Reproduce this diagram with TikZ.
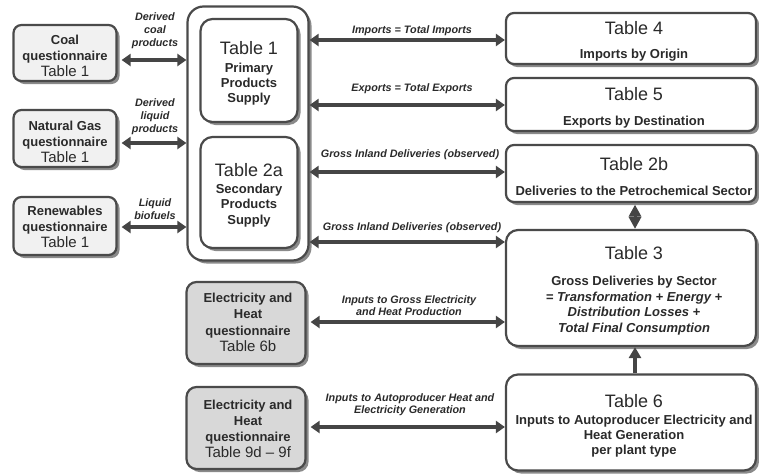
\documentclass[tikz,border=0pt]{standalone}
\usepackage{fontspec}
\setmainfont{Liberation Sans}
\usetikzlibrary{arrows.meta,shadows}
\definecolor{bordc}{HTML}{4A4A4A}
\definecolor{arrc}{HTML}{454545}
\definecolor{txtc}{HTML}{2A2A2A}
\definecolor{lfill}{HTML}{F1F1F1}
\definecolor{dfill}{HTML}{D8D8D8}
\definecolor{shadc}{HTML}{8A8A8A}
\newcommand\mytitle{\fontsize{18}{15.5}\selectfont\mdseries\upshape}
\newcommand\mytitlesm{\fontsize{15}{15.5}\selectfont\mdseries\upshape}
\newcommand\mybody{\fontsize{13}{15.5}\selectfont\bfseries}
\newcommand\mylabel{\fontsize{10.8}{13}\selectfont\bfseries\itshape}
\begin{document}
\begin{tikzpicture}[x=1pt,y=-1pt,
  box/.style={draw=bordc, line width=2.2pt, rounded corners=8pt, fill=white, inner sep=0pt,
    drop shadow={shadow xshift=3pt,shadow yshift=-3pt,fill=shadc,opacity=1}},
  lbox/.style={box, fill=lfill},
  dbox/.style={box, fill=dfill},
  txt/.style={align=center, text=txtc, inner sep=0pt, font=\mybody},
  lab/.style={align=center, text=txtc, inner sep=0pt, font=\mylabel},
  arr/.style={draw=arrc, line width=3.5pt, {Triangle[length=9pt,width=12pt]}-{Triangle[length=9pt,width=12pt]}},
  arrv/.style={draw=arrc, line width=3.5pt, -{Triangle[length=11pt,width=12pt]}},
  diam/.style={draw=arrc, line width=3pt, {Triangle[length=12pt,width=12pt]}-{Triangle[length=12pt,width=12pt]}}
]
\useasboundingbox (0,0) rectangle (759,474);

% left questionnaire boxes
\node[lbox, minimum width=103pt, minimum height=56pt] (coal) at (65,53) {};
\node[lbox, minimum width=103pt, minimum height=57pt] (ng) at (65,138.5) {};
\node[lbox, minimum width=103pt, minimum height=58pt] (ren) at (65,226) {};
\node[txt] (coalt) at (65,56) {Coal\\[0.5pt]questionnaire\\[0.5pt]\mytitlesm Table 1};
\node[txt] (ngt) at (65,141.5) {Natural Gas\\[0.5pt]questionnaire\\[0.5pt]\mytitlesm Table 1};
\node[txt] (rent) at (65,226.5) {Renewables\\[0.5pt]questionnaire\\[0.5pt]\mytitlesm Table 1};

% central container
\node[box, rounded corners=16pt, minimum width=121pt, minimum height=254pt] (outer) at (248,133.5) {};
\node[box, rounded corners=12pt, minimum width=97pt, minimum height=103pt] (t1) at (249,70.5) {};
\node[box, rounded corners=12pt, minimum width=97pt, minimum height=111pt] (t2a) at (249,192.5) {};
\node[txt] (t1t) at (249,73.5) {\mytitle Table 1\\[2pt]Primary\\[-0.5pt]Products\\[-0.5pt]Supply};
\node[txt] (t2at) at (249,195.5) {\mytitle Table 2a\\[2pt]Secondary\\[-0.5pt]Products\\[0.5pt]Supply};

% electricity and heat
\node[dbox, rounded corners=10pt, minimum width=119pt, minimum height=82pt] (eh6) at (246,323) {};
\node[dbox, rounded corners=10pt, minimum width=119pt, minimum height=82pt] (eh9) at (246,428) {};
\node[txt] (eh6t) at (248,322.5) {Electricity and\\[0.5pt]Heat\\[1pt]questionnaire\\[1pt]\mytitlesm Table 6b};
\node[txt] (eh9t) at (248,429) {Electricity and\\[0.5pt]Heat\\[0.5pt]questionnaire\\[0.5pt]\mytitlesm Table 9d -- 9f};

% right boxes
\node[box, minimum width=250pt, minimum height=51pt] (t4) at (631,38.5) {};
\node[box, minimum width=250pt, minimum height=53pt] (t5) at (631,104.5) {};
\node[box, minimum width=250pt, minimum height=57pt] (t2b) at (631,173.5) {};
\node[box, rounded corners=12pt, minimum width=250pt, minimum height=116pt] (t3) at (631,288) {};
\node[box, rounded corners=12pt, minimum width=250pt, minimum height=96pt] (t6) at (631,422.5) {};
\node[txt] (t4t) at (634,41.5) {\mytitle Table 4\\[8pt]Imports by Origin};
\node[txt] (t5t) at (634,108) {\mytitle Table 5\\[10pt]Exports by Destination};
\node[txt] (t2bt) at (634,176.5) {\mytitle Table 2b\\[9pt]Deliveries to the Petrochemical Sector};
\node[txt] (t3t) at (634,290.5) {\mytitle Table 3\\[11pt]Gross Deliveries by Sector\\\itshape = Transformation + Energy +\\\itshape Distribution Losses +\\\itshape Total Final Consumption};
\node[txt] (t6t) at (634,426) {\mytitle Table 6\\[1.5pt]Inputs to Autoproducer Electricity and\\[-0.5pt]Heat Generation\\[-0.5pt]per plant type};

% connector labels
\node[lab] (l1) at (155,31) {Derived\\coal\\products};
\node[lab] (l2) at (155,117) {Derived\\liquid\\products};
\node[lab] (l3) at (155,209) {Liquid\\biofuels};
\node[lab] (l4) at (412,31) {Imports = Total Imports};
\node[lab] (l5) at (412,89) {Exports = Total Exports};
\node[lab] (l6) at (410,155) {Gross Inland Deliveries (observed)};
\node[lab] (l7) at (412,228) {Gross Inland Deliveries (observed)};
\node[lab] (l8) at (409,306) {Inputs to Gross Electricity\\[-1pt]and Heat Production};
\node[lab] (l9) at (410,404.5) {Inputs to Autoproducer Heat and\\[-1pt]Electricity Generation};

% connectors
\draw[arr, shorten <=4pt] (coal.east |- 0,60) -- (outer.west |- 0,60);
\draw[arr, shorten <=4pt] (ng.east |- 0,143) -- (outer.west |- 0,143);
\draw[arr, shorten <=4pt] (ren.east |- 0,227) -- (outer.west |- 0,227);
\draw[arr] (outer.east |- 0,40) -- (t4.west |- 0,40);
\draw[arr] (outer.east |- 0,105) -- (t5.west |- 0,105);
\draw[arr] (outer.east |- 0,172) -- (t2b.west |- 0,172);
\draw[arr] (outer.east |- 0,242) -- (t3.west |- 0,242);
\draw[arr, shorten <=4pt] (eh6.east |- 0,322) -- (t3.west |- 0,322);
\draw[arr, shorten <=4pt] (eh9.east |- 0,427) -- (t6.west |- 0,427);
\draw[diam, shorten <=1.5pt] ([xshift=4pt]t2b.south) -- ([xshift=4pt]t2b.south |- t3.north);
\draw[arrv] ([xshift=4pt]t6.north) -- ([xshift=4pt]t6.north |- t3.south);
\end{tikzpicture}
\end{document}
